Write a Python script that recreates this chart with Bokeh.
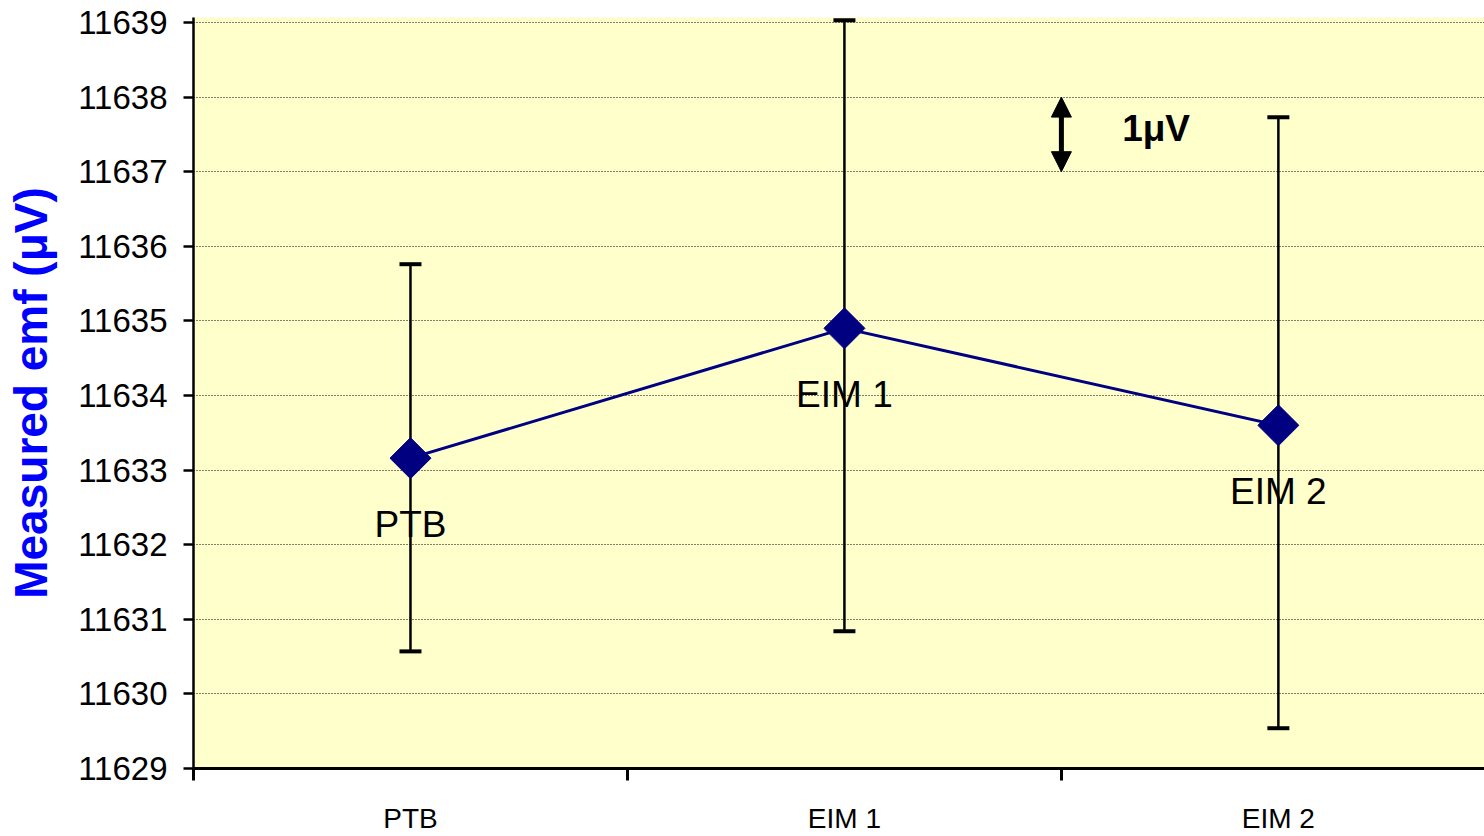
import math
from bokeh.plotting import figure
from bokeh.models import (ColumnDataSource, FixedTicker, Whisker, TeeHead, Arrow,
                          NormalHead, Range1d, Label)
from bokeh.core.properties import value
from bokeh.embed import file_html
from bokeh.resources import INLINE

# ---- data ----
categories = ["PTB", "EIM 1", "EIM 2"]
cat_pos = [0.5, 1.5, 2.5]
emf = [11633.16, 11634.90, 11633.60]
err_upper = [11635.76, 11639.03, 11637.73]
err_lower = [11630.57, 11630.84, 11629.54]
y_ticks = list(range(11629, 11640))
x_boundaries = [0, 1, 2, 3]
scale_arrow_x = 2.0
scale_arrow_y = (11637, 11638)
scale_label = "1\u03bcV"

FONT = "Liberation Sans"

p = figure(width=1484, height=836, output_backend="svg", toolbar_location=None,
           x_range=Range1d(0, 2.975), y_range=Range1d(11629, 11639.067),
           min_border_left=193, min_border_top=17, min_border_right=0,
           min_border_bottom=68)
p.background_fill_color = "#FFFFCC"
p.border_fill_color = "white"
p.outline_line_color = None

src = ColumnDataSource(dict(x=cat_pos, y=emf, upper=err_upper, lower=err_lower,
                            name=categories))

# error bars
wh = Whisker(base="x", upper="upper", lower="lower", source=src,
             line_color="black", line_width=2.5,
             upper_head=TeeHead(size=22, line_width=4, line_color="black"),
             lower_head=TeeHead(size=22, line_width=4, line_color="black"))
p.add_layout(wh)

p.line("x", "y", source=src, line_color="#000080", line_width=3)
p.scatter("x", "y", source=src, marker="square", angle=math.pi / 4, size=29,
          fill_color="#000080", line_color="#000080")

p.text("x", "y", text="name", source=src, y_offset=66, text_align="center",
       text_baseline="middle", text_font=value(FONT), text_font_size="37px",
       text_color="black")

# scale arrow
p.add_layout(Arrow(x_start=scale_arrow_x, y_start=scale_arrow_y[0],
                   x_end=scale_arrow_x, y_end=scale_arrow_y[1],
                   line_width=5, line_color="black",
                   start=NormalHead(size=20, fill_color="black", line_color="black"),
                   end=NormalHead(size=20, fill_color="black", line_color="black")))
p.add_layout(Label(x=2.14, y=11637.58, text=scale_label, text_font=FONT,
                   text_font_size="37px", text_font_style="bold",
                   text_baseline="middle", text_color="black"))

# grid
p.xgrid.visible = False
p.ygrid.grid_line_color = "black"
p.ygrid.grid_line_dash = "1 2"
p.ygrid.grid_line_width = 1
p.ygrid.ticker = FixedTicker(ticks=y_ticks)

# y axis
ya = p.yaxis[0]
ya.ticker = FixedTicker(ticks=y_ticks)
ya.axis_line_width = 2.5
ya.axis_line_color = "black"
ya.major_tick_out = 10
ya.major_tick_in = 0
ya.major_tick_line_width = 2.5
ya.minor_tick_out = 0
ya.minor_tick_in = 0
ya.major_label_text_font = FONT
ya.major_label_text_font_size = "33px"
ya.major_label_text_color = "black"
ya.major_label_standoff = 16
ya.axis_label = "Measured emf (\u03bcV)"
ya.axis_label_text_font = FONT
ya.axis_label_text_font_size = "46px"
ya.axis_label_text_font_style = "bold"
ya.axis_label_text_color = "#0000FF"
ya.axis_label_standoff = 18

# x axis
xa = p.xaxis[0]
xa.ticker = FixedTicker(ticks=cat_pos, minor_ticks=x_boundaries)
xa.major_label_overrides = {c: n for c, n in zip(cat_pos, categories)}
xa.axis_line_width = 3
xa.axis_line_color = "black"
xa.major_tick_out = 0
xa.major_tick_in = 0
xa.minor_tick_out = 12
xa.minor_tick_in = 0
xa.minor_tick_line_width = 3
xa.minor_tick_line_color = "black"
xa.major_label_text_font = FONT
xa.major_label_text_font_size = "28px"
xa.major_label_text_color = "black"
xa.major_label_standoff = 22

open("out.html", "w").write(file_html(p, INLINE))
